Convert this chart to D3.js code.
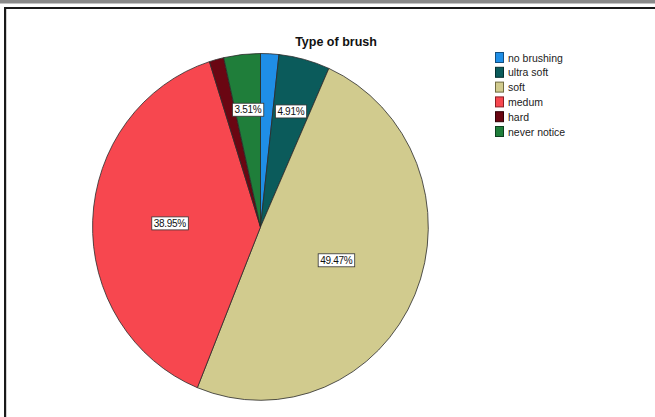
<!DOCTYPE html>
<html>
<head>
<meta charset="utf-8">
<script src="https://cdn.jsdelivr.net/npm/d3@7"></script>
<style>
html,body{margin:0;padding:0;background:#fff;}
svg{display:block;font-family:"Liberation Sans",Arial,sans-serif;}
</style>
</head>
<body>
<svg id="chart" width="655" height="417"></svg>
<script>
const categories = ["no brushing", "ultra soft", "soft", "medum", "hard", "never notice"];
const counts = [5, 14, 141, 111, 4, 10];
const percentLabels = ["", "4.91%", "49.47%", "38.95%", "", "3.51%"];
const colors = ["#1f8ee6", "#0b5b5b", "#d1cb8e", "#f7474f", "#6a0612", "#1f7e3a"];
const strokes = ["#124f80", "#043030", "#6f6a40", "#8a1f24", "#300006", "#0e4020"];
const title = "Type of brush";

const svg = d3.select("#chart");
const W = 655, H = 417;

// frame
svg.append("rect").attr("x",0).attr("y",0).attr("width",W).attr("height",3.5).attr("fill","#8a8a8a");
svg.append("rect").attr("x",4).attr("y",7).attr("width",W-4).attr("height",2).attr("fill","#1a1a1a");
svg.append("rect").attr("x",4).attr("y",7).attr("width",2.2).attr("height",H-7).attr("fill","#1a1a1a");

// title
svg.append("text").attr("x",336).attr("y",46).attr("text-anchor","middle")
  .attr("font-size",12.5).attr("font-weight","bold").attr("fill","#111").text(title);

// pie
const cx = 260.5, cy = 227, rx = 168, ry = 173.5;
const pie = d3.pie().sort(null).value(d => d)(counts);
const arc = d3.arc().innerRadius(0).outerRadius(1);
const g = svg.append("g").attr("transform",`translate(${cx},${cy}) scale(${rx},${ry})`);
g.selectAll("path").data(pie).join("path")
  .attr("d", arc)
  .attr("fill", (d,i) => colors[i])
  .attr("stroke", "#2a2a2a")
  .attr("stroke-width", 0.8/170);

// labels
const labelRadius = [0.6, 0.69, 0.49, 0.54, 0.6, 0.68];
const lg = svg.append("g").attr("transform",`translate(${cx},${cy})`);
pie.forEach((d,i) => {
  if (!percentLabels[i]) return;
  const a = (d.startAngle + d.endAngle)/2;
  const x = Math.sin(a) * rx * labelRadius[i];
  const y = -Math.cos(a) * ry * labelRadius[i];
  const rect = lg.append("rect");
  const t = lg.append("text").attr("x",x).attr("y",y+3.6).attr("text-anchor","middle")
    .attr("font-size",10).attr("fill","#111").attr("letter-spacing",-0.3)
    .text(percentLabels[i]);
  const bb = t.node().getBBox();
  rect.attr("x",bb.x-2).attr("y",y-6.5).attr("width",bb.width+4).attr("height",13)
    .attr("fill","#fff").attr("stroke","#333").attr("stroke-width",0.8);
});

// legend
const leg = svg.append("g").attr("transform","translate(495,52)");
categories.forEach((c,i) => {
  const y = i*14.8;
  leg.append("rect").attr("x",0.5).attr("y",y+0.5).attr("width",8).attr("height",10)
    .attr("fill",colors[i]).attr("stroke",strokes[i]).attr("stroke-width",1);
  leg.append("text").attr("x",13).attr("y",y+9.5).attr("font-size",10.5).attr("fill","#222")
    .text(c);
});
</script>
</body>
</html>
